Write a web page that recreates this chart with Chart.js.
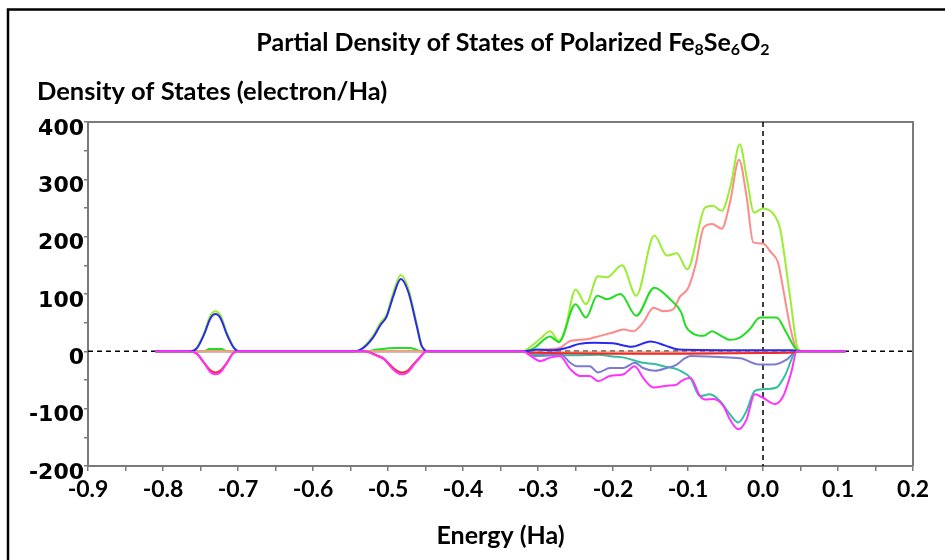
<!DOCTYPE html>
<html>
<head>
<meta charset="utf-8">
<script src="https://cdn.jsdelivr.net/npm/chart.js@4.4.1/dist/chart.umd.min.js"></script>
<style>
  html, body { margin: 0; padding: 0; background: #fff; }
</style>
</head>
<body>
<canvas id="pdosChart" width="945" height="560"></canvas>
<script>
// energy (Ha) / DOS (electron/Ha), one pair of arrays per curve
const sumUpE = [-0.81, -0.765, -0.755, -0.745, -0.737, -0.730, -0.723, -0.715, -0.705, -0.697, -0.545, -0.535, -0.520, -0.510, -0.502, -0.493, -0.483, -0.473, -0.462, -0.455, -0.445, -0.320, -0.310, -0.297, -0.284, -0.272, -0.264, -0.250, -0.236, -0.220, -0.208, -0.188, -0.169, -0.145, -0.128, -0.115, -0.101, -0.077, -0.067, -0.055, -0.043, -0.031, -0.022, -0.012, 0.000, 0.016, 0.023, 0.036, 0.047, 0.055, 0.110];
const sumUpV = [0, 0, 6, 33, 62, 70, 62, 33, 6, 0, 0, 5, 27, 50, 64, 102, 133, 110, 50, 10, 0, 0, 8, 22, 35, 18, 38, 108, 82, 131, 129, 150, 97, 202, 167, 171, 143, 251, 254, 245, 290, 361, 305, 242, 249, 236, 213, 96, 3, 0, 0];

const sUpE = [-0.81, -0.765, -0.755, -0.745, -0.737, -0.730, -0.723, -0.715, -0.705, -0.697, -0.545, -0.535, -0.520, -0.510, -0.502, -0.493, -0.483, -0.473, -0.462, -0.455, -0.445, -0.320, -0.300, -0.280, -0.262, -0.245, -0.225, -0.200, -0.175, -0.150, -0.130, -0.112, -0.050, 0.000, 0.040, 0.048, 0.110];
const sUpV = [0, 0, 5, 30, 57, 65, 57, 30, 5, 0, 0, 4, 24, 46, 60, 96, 126, 104, 46, 9, 0, 0, 3, 2, 6, 13, 15, 14, 8, 17, 10, 3, 2, 2, 2, 0, 0];

const pUpE = [-0.81, -0.745, -0.738, -0.722, -0.715, -0.530, -0.515, -0.490, -0.470, -0.455, -0.320, -0.305, -0.284, -0.272, -0.250, -0.236, -0.221, -0.208, -0.190, -0.169, -0.145, -0.124, -0.109, -0.103, -0.092, -0.079, -0.068, -0.057, -0.044, -0.031, -0.018, -0.004, 0.018, 0.031, 0.045, 0.055, 0.110];
const pUpV = [0, 0, 4, 4, 0, 0, 3, 6, 6, 0, 0, 6, 26, 16, 82, 59, 97, 91, 100, 62, 111, 91, 68, 44, 30, 27, 35, 28, 20, 24, 38, 59, 59, 33, 3, 0, 0];

const dUpE = [-0.81, -0.320, -0.300, -0.283, -0.271, -0.257, -0.235, -0.217, -0.200, -0.186, -0.173, -0.160, -0.146, -0.133, -0.120, -0.111, -0.100, -0.090, -0.079, -0.068, -0.055, -0.044, -0.032, -0.022, -0.013, 0.000, 0.011, 0.020, 0.027, 0.036, 0.045, 0.052, 0.110];
const dUpV = [0, 0, 2, 4, 6, 18, 21, 27, 33, 38, 35, 50, 76, 70, 73, 95, 110, 150, 216, 222, 214, 260, 334, 271, 190, 188, 172, 155, 108, 44, 3, 0, 0];

const sumDnE = [-0.81, -0.765, -0.755, -0.745, -0.737, -0.730, -0.723, -0.715, -0.707, -0.700, -0.531, -0.515, -0.505, -0.497, -0.488, -0.481, -0.474, -0.467, -0.458, -0.449, -0.320, -0.310, -0.297, -0.284, -0.271, -0.257, -0.244, -0.231, -0.220, -0.204, -0.186, -0.171, -0.160, -0.146, -0.128, -0.115, -0.109, -0.097, -0.084, -0.077, -0.066, -0.053, -0.044, -0.033, -0.022, -0.011, 0.000, 0.016, 0.027, 0.038, 0.045, 0.110];
const sumDnV = [0, 0, -4, -21, -36, -40, -36, -21, -4, 0, 0, -8, -14, -26, -37, -40, -37, -26, -12, 0, 0, -8, -17, -11, -8, -31, -43, -43, -52, -43, -40, -26, -46, -63, -60, -58, -52, -46, -78, -84, -83, -95, -119, -136, -119, -75, -81, -92, -78, -35, 0, 0];

const sDnE = [-0.81, -0.765, -0.755, -0.745, -0.737, -0.730, -0.723, -0.715, -0.707, -0.700, -0.531, -0.515, -0.505, -0.497, -0.488, -0.481, -0.474, -0.467, -0.458, -0.449, -0.320, -0.310, -0.280, -0.200, -0.100, 0.000, 0.040, 0.048, 0.110];
const sDnV = [0, 0, -4, -20, -33, -37, -33, -20, -4, 0, 0, -7, -13, -24, -34, -37, -34, -24, -11, 0, 0, -2, -3, -4, -4, -3, -2, 0, 0];

const pDnE = [-0.81, -0.320, -0.305, -0.284, -0.271, -0.257, -0.248, -0.231, -0.220, -0.204, -0.186, -0.171, -0.160, -0.144, -0.128, -0.115, -0.104, -0.097, -0.060, -0.030, -0.005, 0.014, 0.032, 0.045, 0.110];
const pDnV = [0, 0, -8, -7, -4, -20, -26, -26, -37, -29, -29, -20, -29, -34, -29, -23, -12, -8, -10, -12, -23, -23, -14, 0, 0];

const dDnE = [-0.81, -0.320, -0.305, -0.280, -0.250, -0.220, -0.200, -0.185, -0.160, -0.145, -0.130, -0.115, -0.109, -0.097, -0.084, -0.071, -0.057, -0.044, -0.033, -0.022, -0.011, 0.000, 0.018, 0.029, 0.045, 0.110];
const dDnV = [0, 0, -5, -7, -7, -6, -9, -11, -20, -22, -27, -31, -35, -46, -78, -75, -87, -110, -124, -104, -69, -66, -63, -43, 0, 0];

const fE = [-0.81, -0.320, -0.305, 0.040, 0.048, 0.110];
const fV = [0, 0, -1.5, -1.5, 0, 0];

const xTicks = [-0.9, -0.8, -0.7, -0.6, -0.5, -0.4, -0.3, -0.2, -0.1, 0.0, 0.1, 0.2];
const yTicks = [-200, -100, 0, 100, 200, 300, 400];

const chartTitle = [['Partial Density of States of Polarized Fe', 0], ['8', 1], ['Se', 0], ['6', 1], ['O', 0], ['2', 1]];
const yTitle = 'Density of States (electron/Ha)';

// 좌표쌍 만들기
function pts(es, vs) {
    return es.map((e, i) => ({ x: e, y: vs[i] }));
}

function line(label, es, vs, color) {
    return {
        label: label,
        data: pts(es, vs),
        borderColor: color,
        backgroundColor: color,
        borderWidth: 2,
        pointRadius: 0,
        fill: false,
        cubicInterpolationMode: 'monotone'
    };
}

// first dataset ends up on top
const datasets = [
    line('Total (down)', sumDnE, sumDnV, '#ff33ff'),
    line('s (up)', sUpE, sUpV, '#2a2aee'),
    line('s (down)', sDnE, sDnV, '#ee2b2b'),
    line('f', fE, fV, '#f2a488'),
    line('p (up)', pUpE, pUpV, '#22dd22'),
    line('Total (up)', sumUpE, sumUpV, '#99ee33'),
    line('d (up)', dUpE, dUpV, '#ff8a8a'),
    line('p (down)', pDnE, pDnV, '#7b7bd4'),
    line('d (down)', dDnE, dDnV, '#33bf9f')
];

const FONT = 'Lato, "Open Sans", sans-serif';

const framePlugin = {
    id: 'frame',
    beforeDatasetsDraw(chart) {
        const { ctx, chartArea: a, scales: { x, y } } = chart;
        ctx.save();
        // plot box (top + right)
        ctx.strokeStyle = '#7a7a7a';
        ctx.lineWidth = 2;
        ctx.beginPath();
        ctx.moveTo(a.left, a.top);
        ctx.lineTo(a.right, a.top);
        ctx.lineTo(a.right, a.bottom);
        ctx.stroke();
        // dashed zero lines
        ctx.strokeStyle = '#000';
        ctx.lineWidth = 1.5;
        ctx.setLineDash([5, 4]);
        const y0 = y.getPixelForValue(0);
        const x0 = x.getPixelForValue(0);
        ctx.beginPath();
        ctx.moveTo(a.left, y0);
        ctx.lineTo(a.right, y0);
        ctx.moveTo(x0, a.top);
        ctx.lineTo(x0, a.bottom);
        ctx.stroke();
        ctx.restore();
    },
    afterDraw(chart) {
        const ctx = chart.ctx;
        ctx.save();
        // outer frame
        ctx.strokeStyle = '#000';
        ctx.lineWidth = 2.5;
        ctx.beginPath();
        ctx.moveTo(8, 560);
        ctx.lineTo(8, 9.5);
        ctx.lineTo(945, 9.5);
        ctx.stroke();

        ctx.fillStyle = '#000';
        ctx.textBaseline = 'middle';
        // main title with subscripts
        const big = 'bold 25px ' + FONT, small = 'bold 16px ' + FONT;
        let w = 0;
        chartTitle.forEach(([t, sub]) => { ctx.font = sub ? small : big; w += ctx.measureText(t).width; });
        let cx = 513 - w / 2;
        chartTitle.forEach(([t, sub]) => {
            ctx.font = sub ? small : big;
            ctx.fillText(t, cx, sub ? 50 : 43);
            cx += ctx.measureText(t).width;
        });
        // y axis title, horizontal above the plot
        ctx.font = 'bold 25.5px ' + FONT;
        ctx.fillText(yTitle, 37, 92);
        ctx.restore();
    }
};

const ctx = document.getElementById('pdosChart').getContext('2d');
new Chart(ctx, {
    type: 'line',
    data: { datasets: datasets },
    options: {
        responsive: false,
        animation: false,
        devicePixelRatio: 1,
        layout: { padding: { left: 16, right: 32, top: 122, bottom: 8 } },
        plugins: {
            legend: { display: false },
            tooltip: { enabled: false }
        },
        scales: {
            x: {
                type: 'linear',
                min: -0.9,
                max: 0.2,
                afterFit: s => { s.height = 86; },
                ticks: {
                    stepSize: 0.05,
                    autoSkip: false,
                    maxRotation: 0,
                    padding: 5,
                    color: '#000',
                    font: { family: FONT, size: 23, weight: 'bold' },
                    callback: v => {
                        const hit = xTicks.find(t => Math.abs(t - v) < 1e-6);
                        return hit === undefined ? '' : hit.toFixed(1);
                    }
                },
                grid: { drawOnChartArea: false, tickLength: 5, color: '#7a7a7a', lineWidth: 1.5 },
                border: { color: '#7a7a7a', width: 2 },
                title: {
                    display: true,
                    text: 'Energy (Ha)',
                    color: '#000',
                    font: { family: FONT, size: 25, weight: 'bold' },
                    padding: { top: 0, bottom: 1 }
                }
            },
            y: {
                min: -200,
                max: 400,
                afterFit: s => { s.width = 72; },
                ticks: {
                    stepSize: 50,
                    autoSkip: false,
                    padding: 0,
                    labelOffset: 7,
                    color: '#000',
                    font: { family: '"DejaVu Sans", sans-serif', size: 22, weight: 'bold' },
                    callback: v => yTicks.includes(v) ? String(v) : ''
                },
                grid: { drawOnChartArea: false, tickLength: 4, color: '#7a7a7a', lineWidth: 1.5 },
                border: { color: '#7a7a7a', width: 2 }
            }
        }
    },
    plugins: [framePlugin]
});
</script>
</body>
</html>
